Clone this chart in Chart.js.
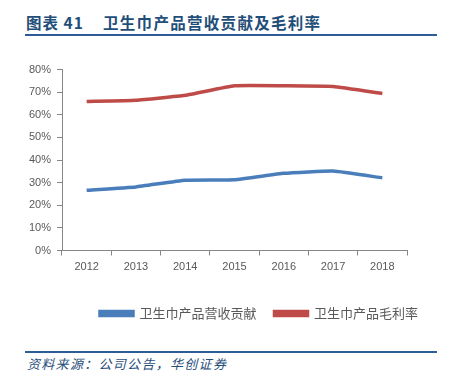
<!DOCTYPE html>
<html><head><meta charset="utf-8">
<script src="https://cdn.jsdelivr.net/npm/chart.js@4/dist/chart.umd.min.js"></script>
<style>
html,body{margin:0;padding:0;background:#fff;width:450px;height:379px;overflow:hidden;}
.t{position:absolute;font-family:"Noto Sans CJK SC";font-weight:bold;color:#1F4E79;font-size:15.5px;line-height:20px;top:12px;white-space:nowrap;}
.rule{position:absolute;left:25px;width:412px;height:2px;background:#2E5C97;}
#foot{position:absolute;left:27px;top:355px;font-family:"Noto Sans CJK SC";font-style:italic;color:#1F4E79;font-size:13px;letter-spacing:1.3px;line-height:18px;white-space:nowrap;}
#wrap{position:absolute;left:0;top:50px;width:450px;height:290px;}
</style></head>
<body>
<div class="t" style="left:26px;letter-spacing:1px;">图表 41</div>
<div class="t" style="left:103px;letter-spacing:1.3px;">卫生巾产品营收贡献及毛利率</div>
<div class="rule" style="top:34px;"></div>
<div id="wrap"><canvas id="c" width="450" height="290"></canvas></div>
<div class="rule" style="top:351px;"></div>
<div id="foot">资料来源：公司公告，华创证券</div>
<script>
const years = ['2012','2013','2014','2015','2016','2017','2018'];
const revenueShare = [26.6, 28.1, 31.1, 31.3, 34.1, 35.1, 32.1];
const grossMargin = [65.9, 66.4, 68.6, 72.8, 72.8, 72.5, 69.4];
const yTicksMax = 80;
const yTickStep = 10;
const seriesNames = ['卫生巾产品营收贡献', '卫生巾产品毛利率'];

const axisColor = '#868686';
new Chart(document.getElementById('c'), {
  type: 'line',
  data: {
    labels: years,
    datasets: [
      {label: seriesNames[0], data: revenueShare, borderColor: '#4A7EBB', backgroundColor: '#4A7EBB', borderWidth: 3.5, pointRadius: 0, tension: 0.12, fill: false},
      {label: seriesNames[1], data: grossMargin, borderColor: '#BE4B48', backgroundColor: '#BE4B48', borderWidth: 3.5, pointRadius: 0, tension: 0.12, fill: false}
    ]
  },
  options: {
    responsive: false,
    animation: false,
    layout: {padding: {left: 0, right: 14, top: 19.5, bottom: 10}},
    plugins: {
      tooltip: {enabled: false},
      legend: {
        position: 'bottom',
        align: 'end',
        labels: {
          boxWidth: 33, boxHeight: 4, padding: 18,
          color: '#595959',
          font: {family: 'Noto Sans CJK SC', size: 13}
        }
      }
    },
    scales: {
      x: {
        offset: true,
        grid: {display: true, drawOnChartArea: false, drawTicks: true, tickLength: 5, offset: true, color: axisColor},
        border: {color: axisColor, width: 1},
        ticks: {color: '#595959', font: {family: 'Liberation Sans', size: 11}, padding: 5, maxRotation: 0},
        afterFit: s => { s.height = 38.5; }
      },
      y: {
        min: 0, max: yTicksMax,
        grid: {display: true, drawOnChartArea: false, drawTicks: true, tickLength: 5, color: axisColor},
        border: {color: axisColor, width: 1},
        ticks: {stepSize: yTickStep, color: '#595959', font: {family: 'Liberation Sans', size: 11}, padding: 6, callback: v => v + '%'},
        afterFit: s => { s.width = 62; }
      },
      yRight: {
        position: 'right',
        display: true,
        min: 0, max: yTicksMax,
        grid: {display: false, drawTicks: false},
        border: {display: false},
        ticks: {display: false},
        afterFit: s => { s.width = 29; }
      }
    }
  }
});
</script>
</body></html>
